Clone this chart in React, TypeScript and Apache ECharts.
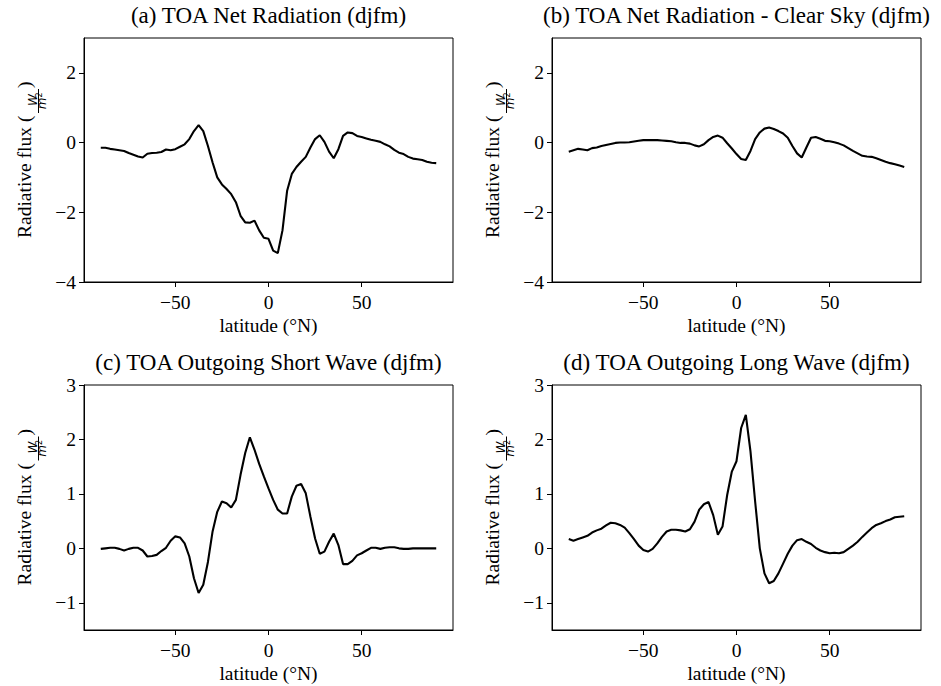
import React, { useEffect, useRef } from "react";
import * as echarts from "echarts";

const LATITUDES = [
  -90, -87.5, -85, -82.5, -80, -77.5, -75, -72.5, -70, -67.5, -65, -62.5, -60, -57.5, -55, -52.5,
  -50, -47.5, -45, -42.5, -40, -37.5, -35, -32.5, -30, -27.5, -25, -22.5, -20, -17.5, -15, -12.5,
  -10, -7.5, -5, -2.5, 0, 2.5, 5, 7.5, 10, 12.5, 15, 17.5, 20, 22.5, 25, 27.5,
  30, 32.5, 35, 37.5, 40, 42.5, 45, 47.5, 50, 52.5, 55, 57.5, 60, 62.5, 65, 67.5,
  70, 72.5, 75, 77.5, 80, 82.5, 85, 87.5, 90,
];

const NET_RADIATION = [
  -0.15, -0.15, -0.18, -0.2, -0.22, -0.24, -0.3, -0.35, -0.4, -0.43, -0.32, -0.3, -0.29, -0.27, -0.2, -0.22,
  -0.19, -0.12, -0.05, 0.1, 0.33, 0.5, 0.33, -0.1, -0.57, -1.0, -1.2, -1.33, -1.48, -1.71, -2.1, -2.29,
  -2.3, -2.24, -2.52, -2.73, -2.76, -3.1, -3.17, -2.52, -1.38, -0.9, -0.7, -0.55, -0.41, -0.14, 0.1, 0.21,
  0.02, -0.26, -0.45, -0.19, 0.19, 0.29, 0.27, 0.19, 0.16, 0.12, 0.08, 0.05, 0.02, -0.05, -0.11, -0.21,
  -0.29, -0.33, -0.41, -0.46, -0.48, -0.5, -0.55, -0.58, -0.59,
];

const NET_RADIATION_CLEAR = [
  -0.26, -0.22, -0.18, -0.2, -0.22, -0.16, -0.14, -0.1, -0.07, -0.04, -0.01, 0, 0, 0.01, 0.03, 0.05,
  0.07, 0.07, 0.07, 0.07, 0.06, 0.05, 0.04, 0.01, -0.01, -0.01, -0.03, -0.08, -0.11, -0.05, 0.07, 0.16,
  0.2, 0.14, -0.02, -0.17, -0.33, -0.47, -0.5, -0.24, 0.1, 0.29, 0.4, 0.43, 0.39, 0.33, 0.26, 0.14,
  -0.1, -0.31, -0.43, -0.14, 0.14, 0.16, 0.11, 0.05, 0.04, 0.01, -0.03, -0.08, -0.16, -0.24, -0.31, -0.38,
  -0.4, -0.41, -0.45, -0.5, -0.55, -0.59, -0.62, -0.66, -0.7,
];

const SHORT_WAVE = [
  -0.01, 0, 0.01, 0.01, -0.01, -0.04, -0.01, 0.01, 0.01, -0.04, -0.15, -0.14, -0.12, -0.05, 0.01, 0.14,
  0.22, 0.2, 0.09, -0.15, -0.55, -0.82, -0.67, -0.25, 0.31, 0.67, 0.86, 0.83, 0.75, 0.89, 1.35, 1.75,
  2.04, 1.81, 1.55, 1.32, 1.1, 0.89, 0.71, 0.64, 0.64, 0.95, 1.15, 1.18, 1.01, 0.58, 0.18, -0.1,
  -0.06, 0.12, 0.27, 0.06, -0.29, -0.29, -0.23, -0.13, -0.09, -0.04, 0.01, 0.01, -0.01, 0.01, 0.02, 0.02,
  0, -0.01, -0.01, 0, 0, 0, 0, 0, 0,
];

const LONG_WAVE = [
  0.17, 0.14, 0.17, 0.2, 0.23, 0.29, 0.33, 0.36, 0.42, 0.47, 0.46, 0.43, 0.38, 0.28, 0.17, 0.05,
  -0.03, -0.06, -0.01, 0.09, 0.21, 0.31, 0.34, 0.34, 0.33, 0.31, 0.35, 0.49, 0.71, 0.81, 0.85, 0.61,
  0.25, 0.4, 0.98, 1.41, 1.6, 2.21, 2.45, 1.78, 0.86, 0, -0.46, -0.64, -0.6, -0.46, -0.28, -0.1,
  0.05, 0.15, 0.17, 0.12, 0.08, 0.01, -0.04, -0.07, -0.09, -0.08, -0.09, -0.07, -0.01, 0.05, 0.12, 0.21,
  0.29, 0.37, 0.43, 0.46, 0.5, 0.53, 0.57, 0.58, 0.59,
];

const TITLES = [
  "(a) TOA Net Radiation (djfm)",
  "(b) TOA Net Radiation - Clear Sky (djfm)",
  "(c) TOA Outgoing Short Wave (djfm)",
  "(d) TOA Outgoing Long Wave (djfm)",
];
const X_TICKS = [-50, 0, 50];
const Y_TICKS_TOP = [-4, -2, 0, 2];
const Y_TICKS_BOTTOM = [-1, 0, 1, 2, 3];
const X_LABEL = "latitude (°N)";
const Y_LABEL = "Radiative flux (";

const SERIES = [NET_RADIATION, NET_RADIATION_CLEAR, SHORT_WAVE, LONG_WAVE];

const SERIF = "Liberation Serif, Times New Roman, serif";
const MATH = "DejaVu Sans, sans-serif";

const PANELS = [
  { left: 84, top: 38, height: 244, ymin: -4, ymax: 3, ticks: Y_TICKS_TOP },
  { left: 552, top: 38, height: 244, ymin: -4, ymax: 3, ticks: Y_TICKS_TOP },
  { left: 84, top: 385, height: 245, ymin: -1.5, ymax: 3, ticks: Y_TICKS_BOTTOM },
  { left: 552, top: 385, height: 245, ymin: -1.5, ymax: 3, ticks: Y_TICKS_BOTTOM },
];
const PANEL_WIDTH = 369;

const fmt = (v: number) => String(v).replace("-", "\u2212");

function txt(x: number, y: number, text: string, fontSize: number, family: string, opts: any = {}) {
  return {
    type: "text",
    x,
    y,
    silent: true,
    style: {
      text,
      fontSize,
      fontFamily: family,
      fontStyle: opts.italic ? "italic" : "normal",
      fill: "#000",
      align: opts.align || "center",
      verticalAlign: "middle",
    },
  };
}

function yLabel(cx: number, cy: number) {
  return {
    type: "group",
    x: cx,
    y: cy,
    rotation: Math.PI / 2,
    silent: true,
    children: [
      txt(-78, 0, Y_LABEL, 19.5, SERIF, { align: "left" }),
      txt(60, 8.7, "W", 12, MATH, { italic: true }),
      {
        type: "line",
        silent: true,
        shape: { x1: 47, y1: 14.1, x2: 71, y2: 14.1 },
        style: { stroke: "#000", lineWidth: 1 },
      },
      txt(56.5, 17.5, "m", 12, MATH, { italic: true }),
      txt(65, 15.1, "2", 8, MATH),
      txt(72, 0, ")", 19.5, SERIF, { align: "left" }),
    ],
  };
}

export default function App() {
  const ref = useRef<HTMLDivElement>(null);

  useEffect(() => {
    if (!ref.current) return;
    const chart = echarts.init(ref.current, undefined, { renderer: "svg" });

    const grid = PANELS.map((p) => ({
      left: p.left,
      top: p.top,
      width: PANEL_WIDTH,
      height: p.height,
      show: true,
      borderColor: "#000",
      borderWidth: 1,
      backgroundColor: "transparent",
      containLabel: false,
    }));

    const axisCommon = (ticks: number[], margin: number) => ({
      axisLine: { show: true, onZero: false, lineStyle: { color: "#000", width: 1 } },
      splitLine: { show: false },
      axisTick: { show: true, inside: false, length: 5, customValues: ticks, lineStyle: { color: "#000", width: 1 } },
      axisLabel: {
        show: true,
        customValues: ticks,
        formatter: fmt,
        fontFamily: SERIF,
        fontSize: 19.5,
        color: "#000",
        margin,
      },
    });

    const xAxis = PANELS.map((_, i) => ({
      type: "value",
      gridIndex: i,
      position: "bottom",
      min: -99,
      max: 99,
      ...axisCommon(X_TICKS, 10),
    }));

    const yAxis = PANELS.map((p, i) => ({
      type: "value",
      gridIndex: i,
      position: "left",
      min: p.ymin,
      max: p.ymax,
      ...axisCommon(p.ticks, 8),
    }));

    const series = SERIES.map((vals, i) => ({
      type: "line",
      xAxisIndex: i,
      yAxisIndex: i,
      data: LATITUDES.map((lat, j) => [lat, vals[j]]),
      showSymbol: false,
      symbol: "none",
      silent: true,
      lineStyle: { color: "#000", width: 2.1 },
      clip: true,
    }));

    const graphic: any[] = [];
    PANELS.forEach((p, i) => {
      const cx = p.left + PANEL_WIDTH / 2;
      graphic.push(txt(cx, p.top - 23, TITLES[i], 23, SERIF));
      graphic.push(txt(cx, p.top + p.height + 43.5, X_LABEL, 19.5, SERIF));
      graphic.push(yLabel(p.left - 59.6, p.top + p.height / 2));
    });

    chart.setOption({
      animation: false,
      backgroundColor: "#fff",
      grid,
      xAxis,
      yAxis,
      series,
      graphic,
    });

    return () => chart.dispose();
  }, []);

  return (
    <div
      ref={ref}
      style={{ position: "fixed", left: 0, top: 0, width: 941, height: 686, background: "#fff" }}
    />
  );
}
